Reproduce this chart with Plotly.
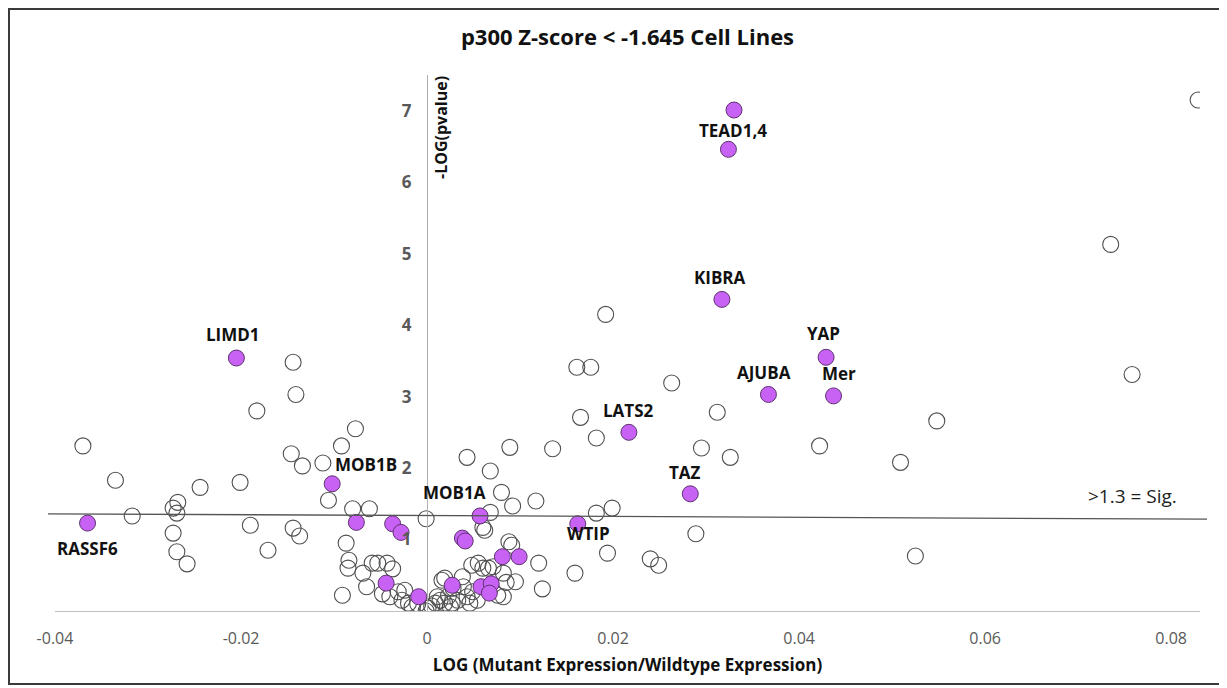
import plotly.graph_objects as go

# ---------------- data ----------------
# open circles (other genes)
open_x = [0.0829, 0.0735, 0.0758, 0.0192, 0.0161, 0.0176, 0.0263, 0.0165, 0.0312, 0.0182,
          0.0295, 0.0326, 0.0422, 0.0548, 0.0509, 0.0525, 0.0289, 0.0135, 0.0089, 0.0043,
          0.0068, 0.0080, 0.0117, 0.0092, 0.0068, 0.0199, 0.0182, -0.0001, 0.0060, 0.0062,
          0.0194, 0.0240, 0.0249, 0.0120, 0.0159, 0.0124, 0.0088, 0.0091, 0.0082, 0.0095,
          0.0048, 0.0055, 0.0060, 0.0038, 0.0039, 0.0019, 0.0028, 0.0054, 0.0043, 0.0033,
          0.0027, 0.0014, 0.0009, -0.0001, 0.0001, 0.0071, 0.0076, 0.0082,
          -0.0144, -0.0141, -0.0183, -0.0370, -0.0077, -0.0092, -0.0146, -0.0134, -0.0112, -0.0335,
          -0.0244, -0.0201, -0.0106, -0.0268, -0.0273, -0.0269, -0.0317, -0.0080, -0.0062, -0.0190,
          -0.0144, -0.0137, -0.0273, -0.0269, -0.0258, -0.0171, -0.0087, -0.0084, -0.0085, -0.0059,
          -0.0069, -0.0053, -0.0043, -0.0037, -0.0065, -0.0091, -0.0048, -0.0040, -0.0031, -0.0027,
          -0.0020, -0.0016, -0.0024, -0.0010, 0.0005, 0.0019, 0.0023, 0.0016, 0.0049, 0.0046,
          0.0025, 0.0011, 0.0085, 0.0066]
open_y = [7.15, 5.13, 3.31, 4.15, 3.41, 3.41, 3.19, 2.71, 2.78, 2.42,
          2.28, 2.15, 2.31, 2.66, 2.08, 0.77, 1.08, 2.27, 2.29, 2.15,
          1.96, 1.66, 1.54, 1.47, 1.38, 1.44, 1.37, 1.29, 1.17, 1.13,
          0.81, 0.73, 0.64, 0.67, 0.53, 0.31, 0.97, 0.92, 0.53, 0.41,
          0.64, 0.67, 0.60, 0.48, 0.34, 0.46, 0.32, 0.15, 0.20, 0.15,
          0.11, 0.15, 0.11, 0.00, 0.04, 0.62, 0.22, 0.20,
          3.48, 3.03, 2.80, 2.31, 2.55, 2.31, 2.20, 2.03, 2.07, 1.83,
          1.73, 1.80, 1.55, 1.52, 1.44, 1.37, 1.33, 1.43, 1.43, 1.20,
          1.16, 1.05, 1.09, 0.83, 0.66, 0.85, 0.95, 0.71, 0.60, 0.67,
          0.53, 0.67, 0.67, 0.59, 0.34, 0.22, 0.24, 0.20, 0.27, 0.15,
          0.11, 0.06, 0.29, 0.10, 0.07, 0.11, 0.21, 0.43, 0.27, 0.11,
          0.06, 0.20, 0.40, 0.60]

# Hippo pathway genes (filled purple), labelled ones
hippo_names = ["TEAD1", "TEAD4", "KIBRA", "LIMD1", "YAP", "AJUBA", "Mer", "LATS2",
               "MOB1B", "TAZ", "RASSF6", "MOB1A", "WTIP"]
hippo_x = [0.0330, 0.0324, 0.0317, -0.0205, 0.0429, 0.0367, 0.0437, 0.0217,
           -0.0102, 0.0283, -0.0365, 0.0057, 0.0162]
hippo_y = [7.01, 6.46, 4.36, 3.54, 3.55, 3.03, 3.01, 2.50,
           1.78, 1.64, 1.23, 1.33, 1.22]

# other Hippo pathway genes (filled purple, unlabelled)
purple_x = [-0.0076, -0.0037, -0.0028, 0.0038, 0.0041, 0.0081, 0.0099, -0.0044,
            -0.0009, 0.0027, 0.0058, 0.0069, 0.0067]
purple_y = [1.24, 1.22, 1.10, 1.02, 0.98, 0.76, 0.76, 0.39,
            0.20, 0.36, 0.34, 0.38, 0.25]

# label texts and which point they are attached to
label_text = ["TEAD1,4", "KIBRA", "LIMD1", "YAP", "AJUBA", "Mer", "LATS2",
              "MOB1B", "TAZ", "RASSF6", "MOB1A", "WTIP"]
label_anchor = ["TEAD4", "KIBRA", "LIMD1", "YAP", "AJUBA", "Mer", "LATS2",
                "MOB1B", "TAZ", "RASSF6", "MOB1A", "WTIP"]

x_ticks = [-0.04, -0.02, 0, 0.02, 0.04, 0.06, 0.08]
x_tick_text = ["-0.04", "-0.02", "0", "0.02", "0.04", "0.06", "0.08"]
y_ticks = [1, 2, 3, 4, 5, 6, 7]

SIG_THRESHOLD = 1.3
TITLE = "p300 Z-score < -1.645 Cell Lines"
X_TITLE = "LOG (Mutant Expression/Wildtype Expression)"
Y_TITLE = "-LOG(pvalue)"

# ---------------- layout constants ----------------
OFF = 8                      # page body margin of the html page
W, H = 1227 - OFF, 688 - OFF
PLOT_L, PLOT_R, PLOT_T, PLOT_B = 55, 1200, 75, 611   # page pixels of the plot area
ML, MR = PLOT_L - OFF, W - (PLOT_R - OFF)
MT, MB = PLOT_T - OFF, H - (PLOT_B - OFF)
XMIN, XMAX = -0.0400, 0.0831
YMIN, YMAX = 0, 7.5
PW, PH = W - ML - MR, H - MT - MB

def px_to_paper_x(px):
    return (px - OFF - ML) / PW

def px_to_paper_y(py):
    return (H - MB - (py - OFF)) / PH

label_offsets = {  # (xshift, yshift) in pixels
    "TEAD1,4": (5, 19), "KIBRA": (-2, 22), "LIMD1": (-3, 24), "YAP": (-3, 24),
    "AJUBA": (-4, 22), "Mer": (5, 22), "LATS2": (0, 22), "MOB1B": (34, 19),
    "TAZ": (-5, 21), "RASSF6": (0, -25), "MOB1A": (-26, 23), "WTIP": (11, -10),
}

PURPLE = "#C862F4"
PURPLE_EDGE = "#5E3370"

fig = go.Figure()

fig.add_trace(go.Scatter(
    x=open_x, y=open_y, mode="markers",
    marker=dict(symbol="circle-open", size=16, color="#505050", line=dict(width=1.1)),
    showlegend=False, hoverinfo="x+y"))

fig.add_trace(go.Scatter(
    x=purple_x, y=purple_y, mode="markers",
    marker=dict(symbol="circle", size=16, color=PURPLE, line=dict(width=1, color=PURPLE_EDGE)),
    showlegend=False, hoverinfo="x+y"))

fig.add_trace(go.Scatter(
    x=hippo_x, y=hippo_y, mode="markers", text=hippo_names,
    marker=dict(symbol="circle", size=16, color=PURPLE, line=dict(width=1, color=PURPLE_EDGE)),
    showlegend=False, hoverinfo="text+x+y"))

annotations = []
for txt, anc in zip(label_text, label_anchor):
    i = hippo_names.index(anc)
    dx, dy = label_offsets[txt]
    annotations.append(dict(
        x=hippo_x[i], y=hippo_y[i], xref="x", yref="y", text=txt, showarrow=False,
        xshift=dx, yshift=dy, xanchor="center", yanchor="middle",
        font=dict(family="Open Sans", size=17, color="#111111", weight="bold")))

# significance label
annotations.append(dict(
    x=px_to_paper_x(1132), y=px_to_paper_y(496), xref="paper", yref="paper",
    text=">1.3 = Sig.", showarrow=False, xanchor="center", yanchor="middle",
    font=dict(family="Open Sans", size=19, color="#222222")))

# y-axis title (rotated, next to the vertical axis)
annotations.append(dict(
    x=px_to_paper_x(441), y=px_to_paper_y(128), xref="paper", yref="paper",
    text=Y_TITLE, textangle=-90, showarrow=False, xanchor="center", yanchor="middle",
    font=dict(family="Open Sans", size=16, color="#111111", weight="bold")))

shapes = [
    # significance threshold line (slightly tilted as in the original drawing)
    dict(type="line", xref="paper", yref="paper",
         x0=px_to_paper_x(48), x1=px_to_paper_x(1207),
         y0=(SIG_THRESHOLD + 0.06) / YMAX, y1=(SIG_THRESHOLD - 0.015) / YMAX,
         line=dict(color="#555555", width=1.3)),
    # outer frame
    dict(type="rect", xref="paper", yref="paper",
         x0=px_to_paper_x(9), x1=px_to_paper_x(1221),
         y0=px_to_paper_y(684), y1=px_to_paper_y(9),
         line=dict(color="#3A3A3A", width=2), fillcolor="rgba(0,0,0,0)"),
]

yaxis_pos = (0 - XMIN) / (XMAX - XMIN)

fig.update_layout(
    width=W, height=H,
    margin=dict(l=ML, r=MR, t=MT, b=MB),
    paper_bgcolor="white", plot_bgcolor="white",
    title=dict(text=TITLE, x=0.5, xref="paper", y=1 - (37 - OFF) / H, yref="container",
               xanchor="center", yanchor="middle",
               font=dict(family="Open Sans", size=22, color="#111111", weight="bold")),
    xaxis=dict(range=[XMIN, XMAX], tickvals=x_ticks, ticktext=x_tick_text,
               showgrid=False, zeroline=False, showline=True, linecolor="#BFBFBF",
               linewidth=1.3, ticks="", ticklabelstandoff=13,
               tickfont=dict(family="Open Sans", size=16, color="#595959"),
               title=dict(text=X_TITLE, standoff=10,
                          font=dict(family="Open Sans", size=17,
                                    color="#111111", weight="bold"))),
    yaxis=dict(range=[YMIN, YMAX], tickvals=y_ticks, showgrid=False, zeroline=False,
               showline=True, linecolor="#B0B0B0", linewidth=1.3, ticks="",
               anchor="free", position=yaxis_pos, ticklabelstandoff=12,
               tickfont=dict(family="Open Sans", size=17, color="#595959", weight="bold")),
    annotations=annotations, shapes=shapes,
)

fig.write_html("out.html")
